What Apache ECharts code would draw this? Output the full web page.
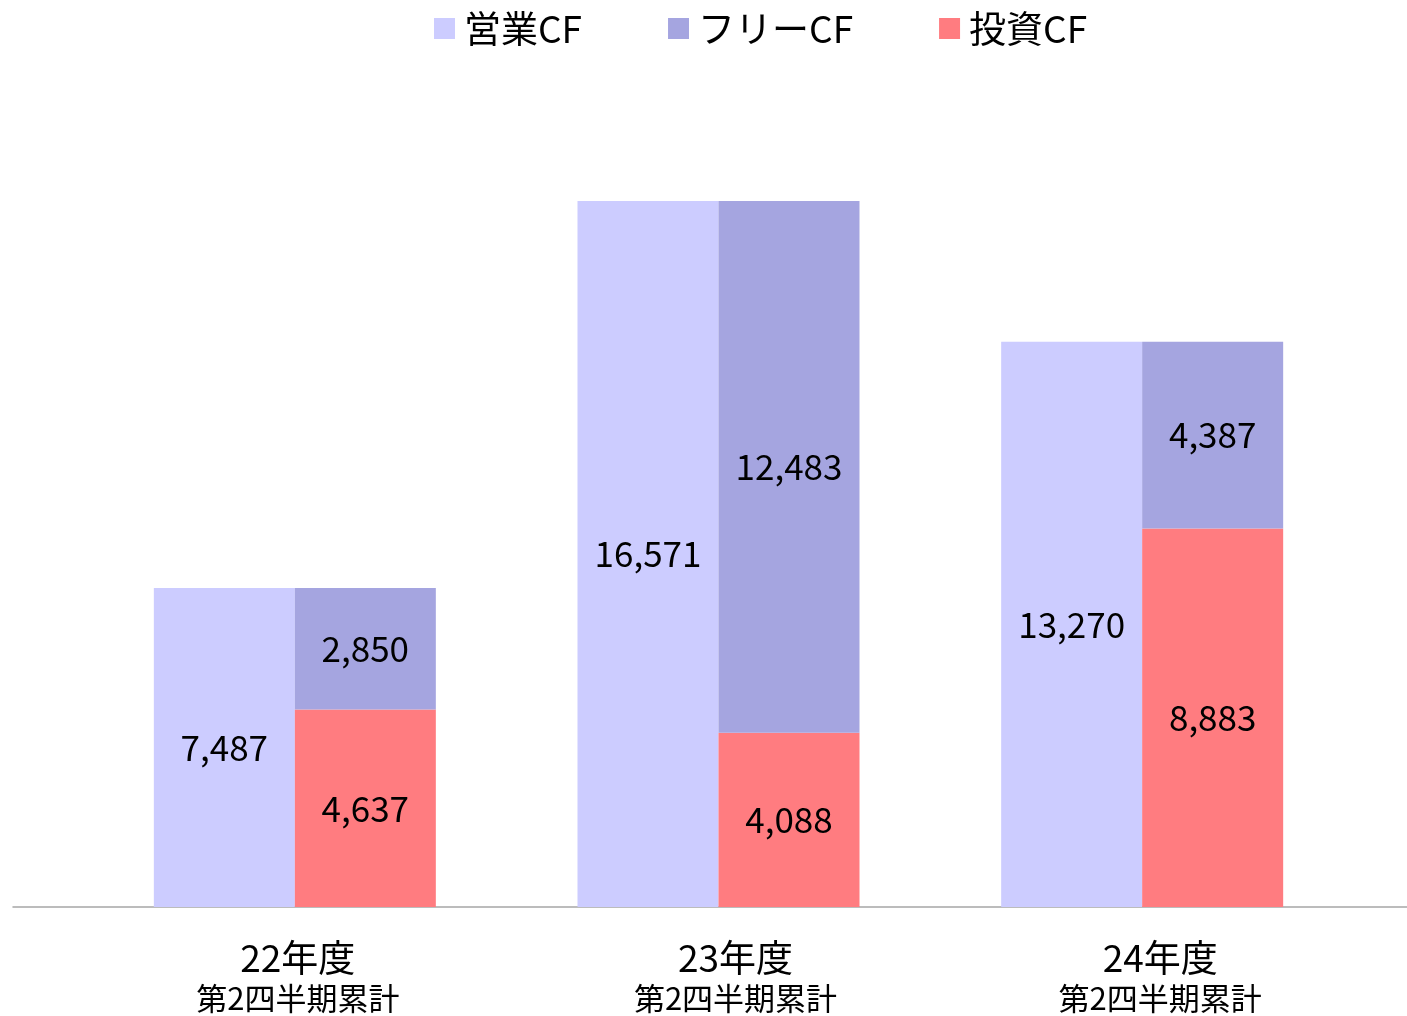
<!DOCTYPE html>
<html>
<head>
<meta charset="utf-8">
<script src="https://cdn.jsdelivr.net/npm/echarts@6/dist/echarts.min.js"></script>
<style>html,body{margin:0;padding:0;background:#fff;}#c{width:1407px;height:1016px;}</style>
</head>
<body>
<div id="c"></div>
<script>
const categories = ['22年度\n第2四半期累計', '23年度\n第2四半期累計', '24年度\n第2四半期累計'];
const operatingCF = [7487, 16571, 13270];
const investingCF = [4637, 4088, 8883];
const freeCF = [2850, 12483, 4387];

const FONT = '"Noto Sans CJK JP", "Noto Sans", sans-serif';
const labelShift = [6, 34, 36];
const chart = echarts.init(document.getElementById('c'));
const labelStyle = {show: true, position: 'inside', color: '#000', fontSize: 35, fontFamily: FONT,
  formatter: p => p.value.toLocaleString('en-US')};
const rich = {};
labelShift.forEach((s, i) => {
  rich['a' + i] = {fontSize: 37, lineHeight: 42, color: '#000', fontFamily: FONT, padding: [0, 0, 0, s]};
  rich['b' + i] = {fontSize: 31, lineHeight: 38, color: '#000', fontFamily: FONT, padding: [0, 0, 0, s]};
});
chart.setOption({
  animation: false,
  textStyle: {fontFamily: FONT},
  legend: {
    top: 5, left: 429, itemWidth: 21, itemHeight: 21, itemGap: 86,
    icon: 'rect',
    data: ['営業CF', 'フリーCF', '投資CF'],
    textStyle: {fontSize: 37, color: '#000', fontFamily: FONT, padding: [0, 0, 0, 4]}
  },
  grid: [
    {left: 83, right: 53, top: 55, bottom: 109},
    {left: 13, right: 0, top: 55, bottom: 109}
  ],
  xAxis: [
    {type: 'category', data: categories, gridIndex: 0,
      axisLine: {show: false}, axisTick: {show: false},
      axisLabel: {margin: 30, color: '#000', fontFamily: FONT,
        formatter: (v, i) => { const s = v.split('\n'); return '{a' + i + '|' + s[0] + '}\n{b' + i + '|' + s[1] + '}'; },
        rich: rich}},
    {type: 'category', data: categories, gridIndex: 1,
      axisLine: {show: true, lineStyle: {color: '#A6A6A6', width: 1.5}},
      axisTick: {show: false}, axisLabel: {show: false}}
  ],
  yAxis: [
    {type: 'value', min: 0, max: 20000, gridIndex: 0, show: false, splitLine: {show: false}},
    {type: 'value', min: 0, max: 20000, gridIndex: 1, show: false, splitLine: {show: false}}
  ],
  series: [
    {name: '営業CF', type: 'bar', data: operatingCF, barWidth: 141, barGap: '0%',
      itemStyle: {color: '#CCCCFF'}, label: labelStyle},
    {name: '投資CF', type: 'bar', stack: 'r', data: investingCF, barWidth: 141,
      itemStyle: {color: '#FF7C80'}, label: labelStyle},
    {name: 'フリーCF', type: 'bar', stack: 'r', data: freeCF, barWidth: 141,
      itemStyle: {color: '#A5A5E0'}, label: labelStyle}
  ]
});
</script>
</body>
</html>
